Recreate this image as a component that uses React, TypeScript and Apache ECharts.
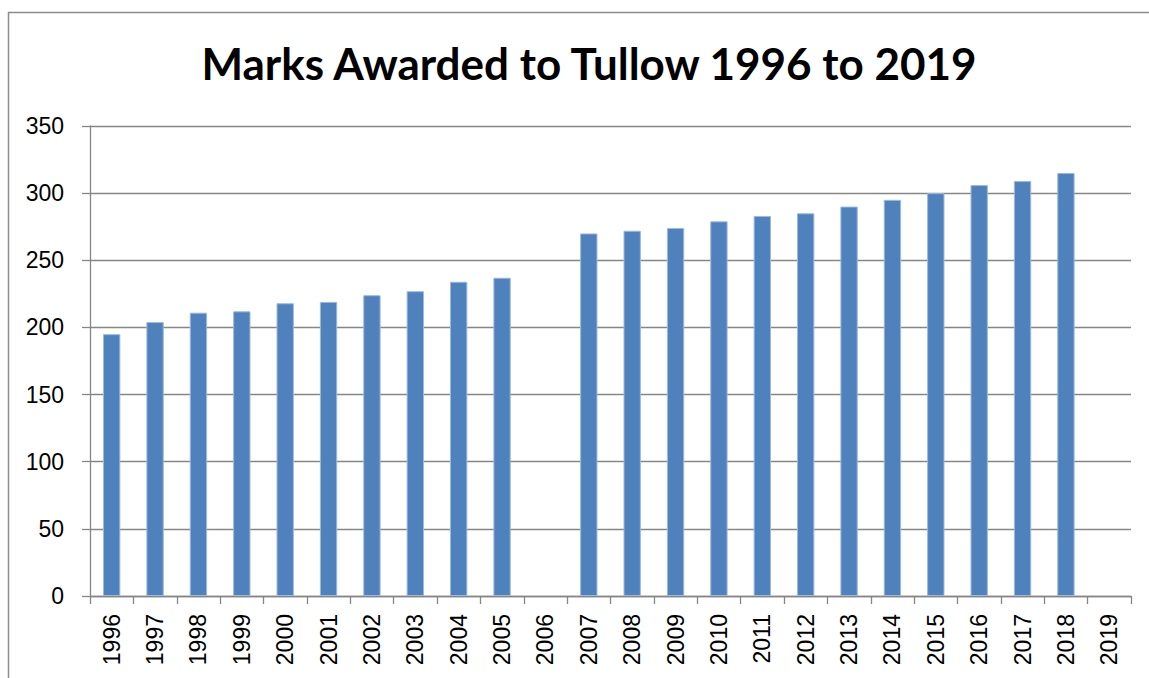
import React, { useEffect, useRef } from "react";
import * as echarts from "echarts";

const years = ["1996","1997","1998","1999","2000","2001","2002","2003","2004","2005","2006","2007","2008","2009","2010","2011","2012","2013","2014","2015","2016","2017","2018","2019"];
const marks: (number | null)[] = [195,204,211,212,218,219,224,227,234,237,null,270,272,274,279,283,285,290,295,300,306,309,315,null];
const yTicks = { min: 0, max: 350, interval: 50 };
const titleText = "Marks Awarded to Tullow 1996 to 2019";

export default function App() {
  const ref = useRef<HTMLDivElement>(null);
  useEffect(() => {
    if (!ref.current) return;
    const chart = echarts.init(ref.current, null, { renderer: "svg" });
    chart.setOption({
      animation: false,
      backgroundColor: "#ffffff",
      title: {
        text: titleText,
        left: 584,
        top: 36,
        textAlign: "center",
        textStyle: { fontFamily: "Lato", fontWeight: "bold", fontSize: 44, color: "#000" },
      },
      graphic: [
        {
          type: "rect",
          shape: { x: 8.5, y: 12.5, width: 1300, height: 900 },
          style: { fill: "none", stroke: "#8c8c8c", lineWidth: 1.5 },
          silent: true,
        },
      ],
      grid: { left: 90, right: 18, top: 126, bottom: 82, containLabel: false },
      xAxis: {
        type: "category",
        data: years,
        boundaryGap: true,
        axisLine: { show: true, lineStyle: { color: "#868686", width: 1.3 } },
        axisTick: { show: true, alignWithLabel: false, length: 8, lineStyle: { color: "#868686", width: 1.3 } },
        axisLabel: { rotate: 90, margin: 18, interval: 0, fontFamily: "Liberation Sans", fontSize: 23, color: "#000" },
      },
      yAxis: {
        type: "value",
        min: yTicks.min,
        max: yTicks.max,
        interval: yTicks.interval,
        axisLine: { show: true, lineStyle: { color: "#868686", width: 1.3 } },
        axisTick: { show: true, length: 8, lineStyle: { color: "#868686", width: 1.3 } },
        axisLabel: { margin: 26, fontFamily: "Liberation Sans", fontSize: 23, color: "#000" },
        splitLine: { show: true, lineStyle: { color: "#868686", width: 1.3 } },
      },
      series: [
        {
          type: "bar",
          data: marks,
          barWidth: "40%",
          itemStyle: { color: "#4F81BD", borderColor: "#9DB9DE", borderWidth: 1 },
        },
      ],
    });
    return () => chart.dispose();
  }, []);
  return <div ref={ref} style={{ position: "fixed", left: 0, top: 0, width: 1149, height: 678 }} />;
}
